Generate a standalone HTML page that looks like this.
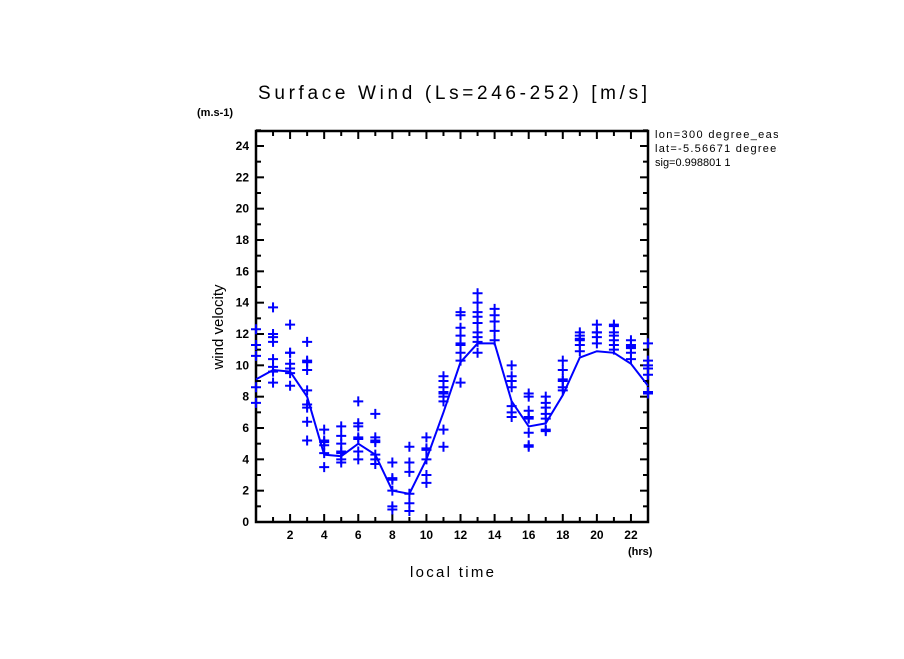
<!DOCTYPE html>
<html><head><meta charset="utf-8"><style>
body{margin:0;background:#fff;}
svg text{font-family:"Liberation Sans",sans-serif;}
</style></head><body>
<svg id="chart" width="904" height="654" xmlns="http://www.w3.org/2000/svg">
<defs><clipPath id="infoclip"><rect x="650" y="120" width="128" height="60"/></clipPath></defs>
<rect width="904" height="654" fill="#fff"/>
<text x="258" y="99" font-size="19" textLength="389" lengthAdjust="spacing">Surface Wind  (Ls=246-252) [m/s]</text>
<text x="197" y="116" font-size="11" font-weight="bold">(m.s-1)</text>
<text x="628" y="555" font-size="11" font-weight="bold">(hrs)</text>
<text x="452" y="577" font-size="15" text-anchor="middle" textLength="84" lengthAdjust="spacing">local time</text>
<text x="223" y="327" font-size="15" text-anchor="middle" transform="rotate(-90 223 327)">wind velocity</text>
<g font-size="11" clip-path="url(#infoclip)">
<text x="655" y="138" textLength="128" lengthAdjust="spacing">lon=300 degree_east</text>
<text x="655" y="152" textLength="128" lengthAdjust="spacing">lat=-5.56671 degrees</text>
<text x="655" y="166">sig=0.998801 1</text>
</g>
<g id="axes"></g>
<g id="marks"></g>
</svg>
<script>
const hours = [0,1,2,3,4,5,6,7,8,9,10,11,12,13,14,15,16,17,18,19,20,21,22,23];
const meanWind = [9.1,9.7,9.6,8.0,4.3,4.2,5.0,4.3,2.0,1.8,4.0,7.0,10.2,11.4,11.4,7.7,6.1,6.3,8.1,10.5,10.9,10.8,10.1,8.7];
const samples = [
[12.3,11.3,11.3,10.6,8.6,7.6],
[13.7,12.0,11.8,11.5,10.4,9.9,9.6,8.9],
[12.6,10.8,10.8,10.1,9.8,9.5,8.7],
[11.5,10.3,10.2,9.7,8.4,7.5,7.3,6.4,5.2],
[5.9,5.2,5.1,4.9,4.4,3.5],
[6.1,5.5,5.0,4.5,4.4,4.0,3.8],
[7.7,6.3,6.1,5.4,5.3,4.5,4.0],
[6.9,5.4,5.2,5.1,4.3,4.0,3.7],
[3.8,2.8,2.7,2.0,1.0,0.8],
[4.8,3.8,3.2,1.8,1.2,0.7],
[5.4,4.7,4.6,4.0,3.0,2.5],
[9.3,9.0,8.6,8.3,8.2,8.0,7.7,5.9,4.8],
[13.4,13.2,12.4,11.9,11.4,11.3,10.8,10.3,8.9],
[14.6,14.0,13.4,13.1,12.7,12.1,11.8,11.5,10.8],
[13.6,13.2,12.8,12.2,11.6],
[10.0,9.3,9.0,8.6,7.4,7.0,6.7],
[8.2,8.0,7.1,6.7,6.6,5.7,4.9,4.8],
[8.0,7.6,7.3,6.9,6.6,5.9,5.8],
[10.3,9.7,9.1,9.0,8.6,8.4],
[12.1,11.9,11.7,11.6,11.3,10.9],
[12.6,12.1,12.1,11.8,11.4],
[12.6,12.5,12.1,11.9,11.6,11.3,11.0],
[11.6,11.3,11.2,11.1,10.8,10.4],
[11.4,10.3,10.0,9.8,9.4,8.3,8.2]
];
const yTicks = [0,2,4,6,8,10,12,14,16,18,20,22,24];
const xTicks = [2,4,6,8,10,12,14,16,18,20,22];

const NS="http://www.w3.org/2000/svg";
const L=256,R=648,T=131,B=522;
const xs=h=>L+h*(R-L)/23;
const ys=v=>B-v*(B-146)/24;
function mk(tag,attrs,parent){const e=document.createElementNS(NS,tag);for(const k in attrs)e.setAttribute(k,attrs[k]);parent.appendChild(e);return e;}
const ax=document.getElementById('axes'), mg=document.getElementById('marks');
const frame=mk('rect',{x:L,y:T,width:R-L,height:B-T,fill:'none',stroke:'#000','stroke-width':2.5},ax);


for(let v=0;v<=25;v++){
  const len=(v%2===0)?8:5;const y=ys(v);
  mk('line',{x1:L,y1:y,x2:L+len,y2:y,stroke:'#000','stroke-width':2},ax);
  mk('line',{x1:R,y1:y,x2:R-len,y2:y,stroke:'#000','stroke-width':2},ax);
}
for(let h=1;h<23;h++){
  const len=(h%2===0)?8:5;const x=xs(h);
  mk('line',{x1:x,y1:B,x2:x,y2:B-len,stroke:'#000','stroke-width':2},ax);
  mk('line',{x1:x,y1:T,x2:x,y2:T+len,stroke:'#000','stroke-width':2},ax);
}
yTicks.forEach(v=>{
  const t=mk('text',{x:L-7,y:ys(v)+4,'font-size':12,'font-weight':'bold','text-anchor':'end'},ax);
  t.textContent=v;
  
  
});
xTicks.forEach(h=>{
  const t=mk('text',{x:xs(h),y:B+17,'font-size':12,'font-weight':'bold','text-anchor':'middle'},ax);
  t.textContent=h;
  
  
});
samples.forEach((arr,i)=>{
  const x=xs(hours[i]);
  arr.forEach(v=>{
    const y=ys(v);
    const p=mk('path',{d:`M${x-5},${y}H${x+5}M${x},${y-5}V${y+5}`,stroke:'#0000ff','stroke-width':2,fill:'none'},mg);
    
    
  });
});
const line=mk('polyline',{points:hours.map((h,i)=>xs(h)+','+ys(meanWind[i])).join(' '),fill:'none',stroke:'#0000ff','stroke-width':2},mg);


</script>
</body></html>
